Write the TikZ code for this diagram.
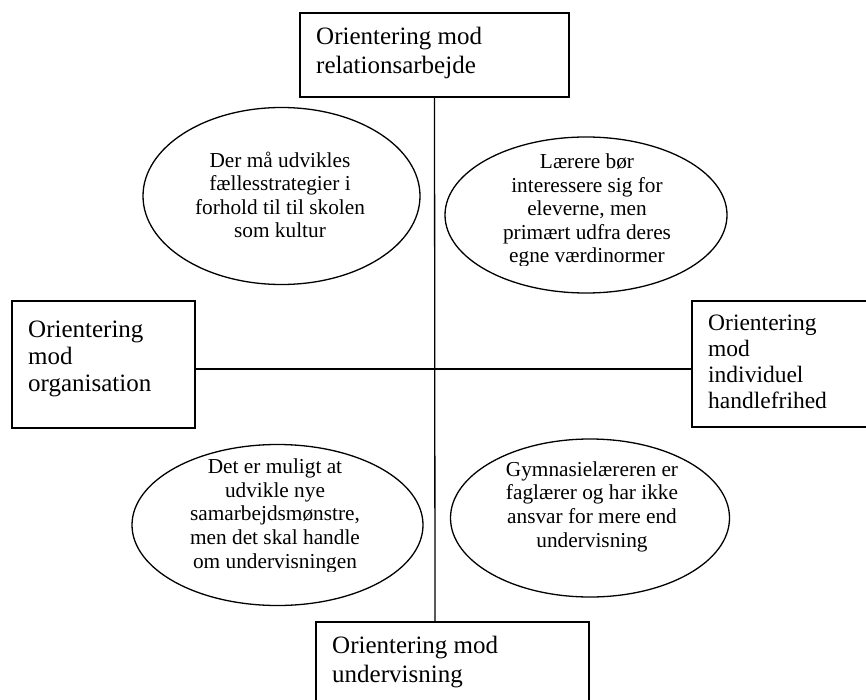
\documentclass[tikz,border=0pt]{standalone}
\usepackage{fontspec}
\setmainfont{Liberation Serif}
\usetikzlibrary{shapes.geometric}
\begin{document}
\begin{tikzpicture}[x=1pt,y=-1pt,
  frame/.style={draw, line width=2pt, inner sep=0pt, rectangle},
  link/.style={line width=1.3pt},
  bubble/.style={draw, line width=1.3pt, ellipse, inner sep=0pt},
  boxtext/.style={anchor=base west, align=left, inner sep=0pt},
  bubtext/.style={anchor=base, align=center, inner sep=0pt,
    font=\fontsize{21.3}{23.6}\selectfont}]
\useasboundingbox (0,0) rectangle (866,700);
\clip (0,0) rectangle (866,700);

% the four orientation boxes
\node[frame, minimum width=269pt, minimum height=84pt] (rel) at (434.5,55) {};
\node[frame, minimum width=183pt, minimum height=127pt] (org) at (103.5,364.5) {};
\node[frame, minimum width=188pt, minimum height=126pt] (ind) at (786,364) {};
\node[frame, minimum width=273pt, minimum height=98pt] (und) at (452.5,671) {};

% box captions, each placed by the baseline of its last line
\node[boxtext, font=\fontsize{25}{29}\selectfont] (relt) at (316,74)
  {Orientering mod\\relationsarbejde};
\node[boxtext, font=\fontsize{25}{27}\selectfont] (orgt) at (28,391)
  {Orientering\\mod\\organisation};
\node[boxtext, font=\fontsize{23.5}{26}\selectfont] (indt) at (708,408)
  {Orientering\\mod\\individuel\\handlefrihed};
\node[boxtext, font=\fontsize{25}{29}\selectfont] (undt) at (332,682)
  {Orientering mod\\undervisning};

% the two axes
\coordinate (cross) at (435,369);
\draw[link] (rel.south) -- (cross |- und.north);
\draw[link] (org.east |- cross) -- (ind.west |- cross);

% the four quadrant ellipses
\node[bubble, minimum width=277pt, minimum height=177pt] (tl) at (281.5,196) {};
\node[bubble, minimum width=282pt, minimum height=156pt] (tr) at (586,215) {};
\node[bubble, minimum width=291pt, minimum height=161pt] (bl) at (277.5,525) {};
\node[bubble, minimum width=279pt, minimum height=158pt] (br) at (590,518) {};

\node[bubtext] (tlt) at (280,238)
  {Der må udvikles\\fællesstrategier i\\forhold til til skolen\\som kultur};
% the last lines of two ellipse texts run into the text frame's lower edge
\begin{scope}
  \clip (445,120) rectangle (730,266);
  \node[bubtext] (trt) at (587,263)
    {Lærere bør\\interessere sig for\\eleverne, men\\primært udfra deres\\egne værdinormer};
\end{scope}
\begin{scope}
  \clip (130,440) rectangle (425,571);
  \node[bubtext] (blt) at (275,568)
    {Det er muligt at\\udvikle nye\\samarbejdsmønstre,\\men det skal handle\\om undervisningen};
\end{scope}
\node[bubtext] (brt) at (592,547)
  {Gymnasielæreren er\\faglærer og har ikke\\ansvar for mere end\\undervisning};
\end{tikzpicture}
\end{document}
